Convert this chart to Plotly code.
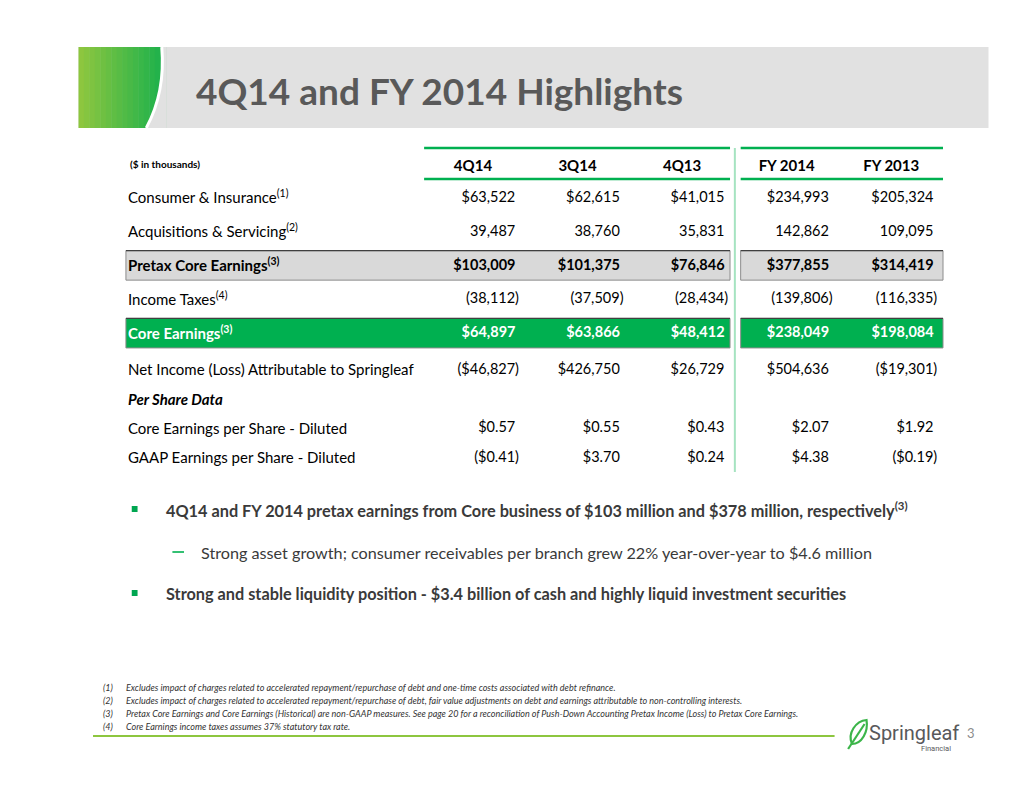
import plotly.graph_objects as go

W, H = 1034, 799

# ---- table data ($ in thousands, per-share rows in $) ----
columns = ["4Q14", "3Q14", "4Q13", "FY 2014", "FY 2013"]

rows_top = ["Consumer & Insurance", "Acquisitions & Servicing", "Pretax Core Earnings",
            "Income Taxes", "Core Earnings"]
rows_bottom = ["Net Income (Loss) Attributable to Springleaf", "Per Share Data",
               "Core Earnings per Share - Diluted", "GAAP Earnings per Share - Diluted"]
row_notes = ["(1)", "(2)", "(3)", "(4)", "(3)", "", "", "", ""]

q4_14 = [63522, 39487, 103009, -38112, 64897, -46827, None, 0.57, -0.41]
q3_14 = [62615, 38760, 101375, -37509, 63866, 426750, None, 0.55, 3.70]
q4_13 = [41015, 35831, 76846, -28434, 48412, 26729, None, 0.43, 0.24]
fy_14 = [234993, 142862, 377855, -139806, 238049, 504636, None, 2.07, 4.38]
fy_13 = [205324, 109095, 314419, -116335, 198084, -19301, None, 1.92, -0.19]

bullets = [
    "4Q14 and FY 2014 pretax earnings from Core business of $103 million and $378 million, respectively<sup>(3)</sup>",
    "Strong asset growth; consumer receivables per branch grew 22% year-over-year to $4.6 million",
    "Strong and stable liquidity position - $3.4 billion of cash and highly liquid investment securities",
]

footnotes = [
    "Excludes impact of charges related to accelerated repayment/repurchase of debt and one-time costs associated with debt refinance.",
    "Excludes impact of charges related to accelerated repayment/repurchase of debt, fair value adjustments on debt and earnings attributable to non-controlling interests.",
    "Pretax Core Earnings and Core Earnings (Historical) are non-GAAP measures. See page 20 for a reconciliation of Push-Down Accounting Pretax Income (Loss) to Pretax Core Earnings.",
    "Core Earnings income taxes assumes 37% statutory tax rate.",
]

dollar_rows = {"Consumer & Insurance", "Pretax Core Earnings", "Core Earnings",
               "Net Income (Loss) Attributable to Springleaf",
               "Core Earnings per Share - Diluted", "GAAP Earnings per Share - Diluted"}
per_share_rows = {"Core Earnings per Share - Diluted", "GAAP Earnings per Share - Diluted"}
bold_rows = {"Pretax Core Earnings", "Core Earnings"}
green_row = "Core Earnings"
gray_row = "Pretax Core Earnings"

FONT = "Lato"
GREEN = "#00b050"
TXT = "#000000"


def px(x):
    return x / W


def py(y):
    return 1 - y / H


def P(x, y):
    return f"{px(x):.5f},{py(y):.5f}"


def fmt(v, row):
    dec = 2 if row in per_share_rows else 0
    s = f"{abs(v):,.{dec}f}"
    if row in dollar_rows:
        s = "$" + s
    s = f"({s})" if v < 0 else s + "\u00a0"
    if row in bold_rows:
        s = f"<b>{s}</b>"
    return s


def row_label(i, row):
    s = row
    if row_notes[i]:
        s += f"<sup>{row_notes[i]}</sup>"
    if row in bold_rows:
        s = f"<b>{s}</b>"
    if row == "Per Share Data":
        s = "<b><i>Per Share Data</i></b>"
    if row == green_row:
        s = f"<span style='color:white'>{s}</span>"
    return s


series = [q4_14, q3_14, q4_13, fy_14, fy_13]

fig = go.Figure()

for block, yax, offset in [(rows_top, "y", 0), (rows_bottom, "y2", len(rows_top))]:
    xs, ys, texts, colors = [], [], [], []
    for col, vals in zip(columns, series):
        for j, row in enumerate(block):
            v = vals[offset + j]
            if v is None:
                continue
            xs.append(col)
            ys.append(row)
            texts.append(fmt(v, row))
            colors.append("white" if row == green_row else TXT)
    fig.add_trace(go.Scatter(
        x=xs, y=ys, text=texts, mode="text", textposition="middle left",
        textfont=dict(family=FONT, size=14.5, color=colors),
        xaxis="x", yaxis=yax, cliponaxis=False, hoverinfo="skip", showlegend=False,
    ))

shapes = []

# title bar
shapes.append(dict(type="rect", xref="paper", yref="paper", x0=px(47), x1=px(987),
                   y0=py(128), y1=py(47), fillcolor="#e1e1e1", line_width=0, layer="below"))
c0, c1 = (141, 198, 63), (27, 177, 76)
n = 16
for k in range(n):
    t = k / (n - 1)
    col = "rgb({},{},{})".format(*[round(a + (b - a) * t) for a, b in zip(c0, c1)])
    xa = 47 + (137 - 47) * k / n
    xb = 47 + (137 - 47) * (k + 1) / n + 0.5
    shapes.append(dict(type="rect", xref="paper", yref="paper", x0=px(xa), x1=px(xb),
                       y0=py(128), y1=py(47), fillcolor=col, line_width=0, layer="below"))
shapes.append(dict(type="path", xref="paper", yref="paper",
                   path=f"M{P(133,47)} Q{P(137,92)} {P(117,128)} L{P(138,128)} L{P(138,47)} Z",
                   fillcolor="#e1e1e1", line_width=0, layer="below"))
shapes.append(dict(type="path", xref="paper", yref="paper",
                   path=f"M{P(133,47)} Q{P(137,92)} {P(117,128)}",
                   line=dict(color="white", width=3), layer="below"))

# header rules and column-group separator
for xa, xb in [(404, 720), (731, 940)]:
    for yy in [148, 179]:
        shapes.append(dict(type="line", xref="paper", yref="paper", x0=px(xa), x1=px(xb),
                           y0=py(yy), y1=py(yy), line=dict(color=GREEN, width=2.5)))
shapes.append(dict(type="line", xref="paper", yref="paper", x0=px(725), x1=px(725),
                   y0=py(148), y1=py(472), line=dict(color="#a6e3c1", width=2)))

# highlighted rows
for row, fill in [(gray_row, "#d9d9d9"), (green_row, GREEN)]:
    idx = rows_top.index(row)
    for xa, xb in [(96, 720), (731, 940)]:
        shapes.append(dict(type="rect", xref="paper", yref="y", x0=px(xa), x1=px(xb),
                           y0=idx - 0.45, y1=idx + 0.42, fillcolor=fill,
                           line=dict(color="#8c8c8c", width=1), layer="below"))
        shapes.append(dict(type="line", xref="paper", yref="y", x0=px(xa), x1=px(xb),
                           y0=idx - 0.45, y1=idx - 0.45,
                           line=dict(color="#404040", width=1.2), layer="below"))

# bullet squares
for yy in [509, 593]:
    shapes.append(dict(type="rect", xref="paper", yref="paper", x0=px(102), x1=px(108),
                       y0=py(yy + 3), y1=py(yy - 3), fillcolor="#00a651", line_width=0))

# sub-bullet dash
shapes.append(dict(type="line", xref="paper", yref="paper", x0=px(144), x1=px(156),
                   y0=py(552), y1=py(552), line=dict(color=GREEN, width=1.6)))

# footer rule
shapes.append(dict(type="line", xref="paper", yref="paper", x0=px(62), x1=px(828),
                   y0=py(736), y1=py(736), line=dict(color="#8dc63f", width=2)))

# leaf logo
shapes.append(dict(type="path", xref="paper", yref="paper",
                   path=f"M{P(846,744)} C{P(841,733)} {P(850,721)} {P(861,720)} C{P(863,732)} {P(856,744)} {P(846,744)} Z",
                   line=dict(color="#3cb54a", width=2.2)))
shapes.append(dict(type="line", xref="paper", yref="paper", x0=px(842), x1=px(859),
                   y0=py(749), y1=py(724), line=dict(color="#3cb54a", width=2.2)))

ann = []


def note(x, y, text, size, color="#404040", xanchor="left", **kw):
    ann.append(dict(x=px(x), y=py(y), xref="paper", yref="paper", text=text, showarrow=False,
                    xanchor=xanchor, yanchor="middle",
                    font=dict(family=kw.get("family", FONT), size=size, color=color,
                              style=kw.get("style", "normal"))))


note(166, 90, "<b>4Q14 and FY 2014 Highlights</b>", 37, "#595959")
note(98, 164, "<b>($ in thousands)</b>", 10, TXT)

note(135, 509, f"<b>{bullets[0]}</b>", 16.3, "#3a3a3a")
note(171, 552, bullets[1], 16.2, "#3a3a3a")
note(135, 593, f"<b>{bullets[2]}</b>", 16.3, "#3a3a3a")

for k, text in enumerate(footnotes):
    yy = 687 + 13 * k
    note(70, yy, f"({k + 1})", 9, "#333333", style="italic")
    note(94, yy, text, 9, "#333333", style="italic")

note(862, 733, "Springleaf", 20, "#58595b", family="Roboto")
note(950, 748, "Financial", 7.5, "#58595b", xanchor="right", family="Roboto")
note(963, 733, "3", 13, "#8c8c8c")

# axis geometry (pixel targets)
x_c0, x_step = 502, 108
y_top0, y_top_step = 198.1, 33.9
y_bot0, y_bot_step = 370, 29.3

fig.update_layout(
    width=W, height=H, margin=dict(l=0, r=0, t=0, b=0),
    paper_bgcolor="white", plot_bgcolor="rgba(0,0,0,0)",
    shapes=shapes, annotations=ann, showlegend=False,
    font=dict(family=FONT, color=TXT),
    xaxis=dict(
        type="category", categoryorder="array", categoryarray=columns,
        range=[-0.3, 4.3],
        domain=[px(x_c0 - 0.3 * x_step), px(x_c0 + 4.3 * x_step)],
        side="top", anchor="y", showgrid=False, zeroline=False, showline=False, ticks="",
        tickvals=columns, ticktext=[f"<b>{c}</b>" for c in columns],
        tickfont=dict(family=FONT, size=15, color=TXT),
        ticklabelshift=-46, ticklabelstandoff=6,
    ),
    yaxis=dict(
        type="category", categoryorder="array", categoryarray=rows_top,
        range=[len(rows_top) - 0.5, -0.5],
        domain=[py(y_top0 + (len(rows_top) - 0.5) * y_top_step), py(y_top0 - 0.5 * y_top_step)],
        anchor="free", position=px(94), ticklabelposition="inside",
        showgrid=False, zeroline=False, showline=False, ticks="",
        tickvals=rows_top, ticktext=[row_label(i, r) for i, r in enumerate(rows_top)],
        tickfont=dict(family=FONT, size=15, color=TXT),
    ),
    yaxis2=dict(
        type="category", categoryorder="array", categoryarray=rows_bottom,
        range=[len(rows_bottom) - 0.5, -0.5],
        domain=[py(y_bot0 + (len(rows_bottom) - 0.5) * y_bot_step), py(y_bot0 - 0.5 * y_bot_step)],
        anchor="free", position=px(94), ticklabelposition="inside",
        showgrid=False, zeroline=False, showline=False, ticks="",
        tickvals=rows_bottom,
        ticktext=[row_label(len(rows_top) + i, r) for i, r in enumerate(rows_bottom)],
        tickfont=dict(family=FONT, size=15, color=TXT),
    ),
)

fig.write_html("out.html", config={"displayModeBar": False},
               post_script="document.body.style.margin='0';")
